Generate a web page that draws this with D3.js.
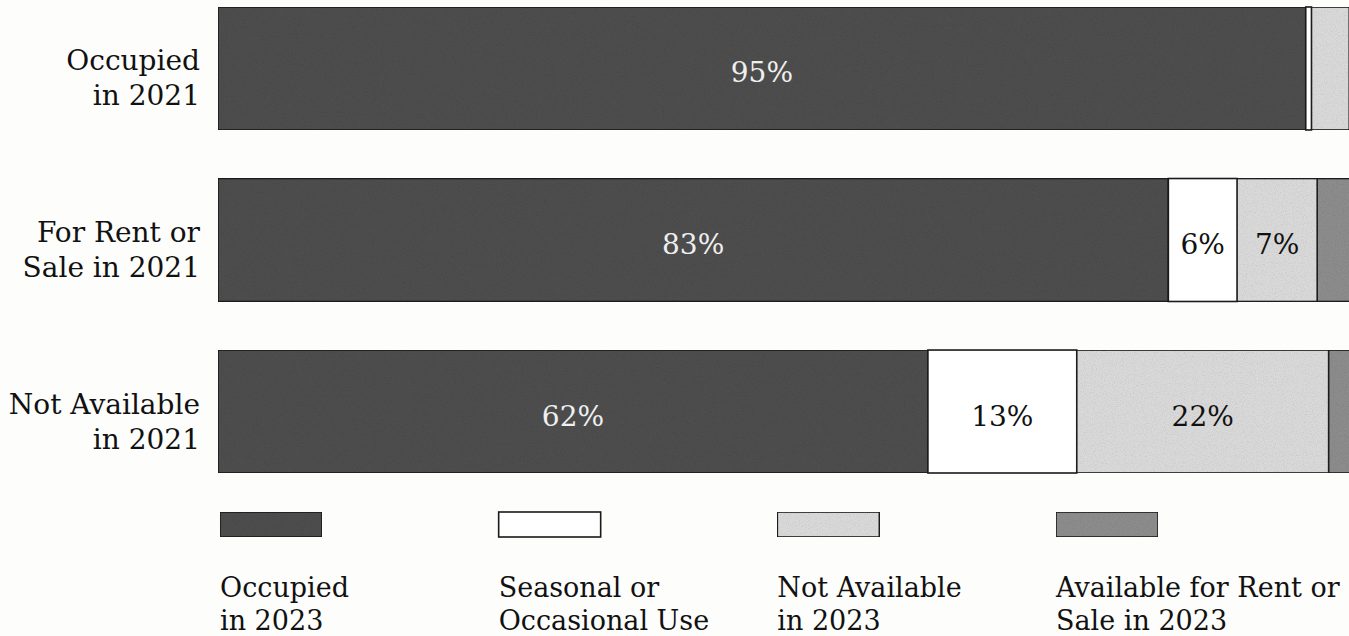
<!DOCTYPE html>
<html>
<head>
<meta charset="utf-8">
<script src="https://cdn.jsdelivr.net/npm/d3@7"></script>
<style>
  html, body { margin: 0; padding: 0; background: #fdfdfc; }
  svg { display: block; }
  text { font-family: "DejaVu Serif", "Liberation Serif", serif; }
</style>
</head>
<body>
<svg id="chart" width="1349" height="636"></svg>
<script>
// rows (status in 2021), top to bottom
const rowLabels = [["Occupied", "in 2021"], ["For Rent or", "Sale in 2021"], ["Not Available", "in 2021"]];
// status in 2023, stacked left to right
const statusKeys = ["occupied", "seasonal", "notAvailable", "forRent"];
const statusLabels = [["Occupied", "in 2023"], ["Seasonal or", "Occasional Use"], ["Not Available", "in 2023"], ["Available for Rent or", "Sale in 2023"]];
// percent shares per row
const occupied2023 = [95, 83, 62];
const seasonal2023 = [0.5, 6, 13];
const notAvailable2023 = [3.3, 7, 22];
const forRent2023 = [1.2, 4, 3];
// only segments big enough carry a label
const labelMin = 5;

const fills = { occupied: "#4e4e4e", seasonal: "#ffffff", notAvailable: "#d9d9d9", forRent: "#8c8c8c" };
const textFills = { occupied: "#efefef", seasonal: "#111", notAvailable: "#111", forRent: "#111" };

const svg = d3.select("#chart");

// subtle grain like the printed page
const defs = svg.append("defs");
const grain = defs.append("filter").attr("id", "grain").attr("x", 0).attr("y", 0).attr("width", 1).attr("height", 1);
grain.append("feTurbulence").attr("type", "fractalNoise").attr("baseFrequency", 0.9).attr("numOctaves", 2).attr("seed", 3).attr("result", "noise");
grain.append("feColorMatrix").attr("in", "noise").attr("type", "matrix")
  .attr("values", "0 0 0 0 0  0 0 0 0 0  0 0 0 0 0  0 0 0 -1.6 0.9").attr("result", "dots");
grain.append("feComposite").attr("in", "dots").attr("in2", "SourceGraphic").attr("operator", "in").attr("result", "clipped");
grain.append("feComponentTransfer").attr("in", "clipped").attr("result", "soft")
  .append("feFuncA").attr("type", "linear").attr("slope", 0.25);
const merge = grain.append("feMerge");
merge.append("feMergeNode").attr("in", "SourceGraphic");
merge.append("feMergeNode").attr("in", "soft");

const rows = rowLabels.map((lab, i) => ({
  label: lab,
  occupied: occupied2023[i],
  seasonal: seasonal2023[i],
  notAvailable: notAvailable2023[i],
  forRent: forRent2023[i]
}));

const x = d3.scaleLinear().domain([0, 100]).range([218, 1363]);
const y = d3.scaleBand().domain(d3.range(rows.length)).range([7, 473]).paddingInner(0.283).paddingOuter(0);

const series = d3.stack().keys(statusKeys)(rows);

const layer = svg.append("g").selectAll("g")
  .data(series)
  .join("g");

layer.selectAll("rect")
  .data(s => s.map((d, i) => ({ key: s.key, i, x0: d[0], x1: d[1] })))
  .join("rect")
  .attr("x", d => x(d.x0))
  .attr("y", d => y(d.i))
  .attr("width", d => x(d.x1) - x(d.x0))
  .attr("height", y.bandwidth())
  .attr("fill", d => fills[d.key])
  .attr("stroke", "#1a1a1a")
  .attr("stroke-width", 1.6)
  .attr("filter", d => d.key === "seasonal" ? null : "url(#grain)");

layer.selectAll("text")
  .data(s => s.map((d, i) => ({ key: s.key, i, x0: d[0], x1: d[1] })).filter(d => d.x1 - d.x0 >= labelMin))
  .join("text")
  .attr("x", d => x((d.x0 + d.x1) / 2))
  .attr("y", d => y(d.i) + y.bandwidth() / 2 + 14)
  .attr("text-anchor", "middle")
  .attr("font-size", 28)
  .attr("fill", d => textFills[d.key])
  .text(d => Math.round(d.x1 - d.x0) + "%");

// row labels
svg.append("g").selectAll("text")
  .data(rows)
  .join("text")
  .attr("text-anchor", "end")
  .attr("font-size", 28)
  .attr("fill", "#111")
  .each(function(d, i) {
    const cy = y(i) + y.bandwidth() / 2;
    d3.select(this).selectAll("tspan")
      .data(d.label)
      .join("tspan")
      .attr("x", 200)
      .attr("y", (t, j) => cy + 2 + j * 35)
      .text(t => t);
  });

// legend
const lx = d3.scalePoint().domain(statusKeys).range([220, 1056]);
const legend = svg.append("g").selectAll("g")
  .data(statusKeys)
  .join("g")
  .attr("transform", k => `translate(${lx(k)},0)`);

legend.append("rect")
  .attr("x", 0)
  .attr("y", 512)
  .attr("width", 102)
  .attr("height", 25)
  .attr("fill", k => fills[k])
  .attr("stroke", "#1a1a1a")
  .attr("stroke-width", 1.6)
  .attr("filter", k => k === "seasonal" ? null : "url(#grain)");

legend.append("text")
  .attr("font-size", 27)
  .attr("fill", "#111")
  .selectAll("tspan")
  .data((k, i) => statusLabels[i])
  .join("tspan")
  .attr("x", 0)
  .attr("y", (t, j) => 597 + j * 33)
  .text(t => t);
</script>
</body>
</html>
